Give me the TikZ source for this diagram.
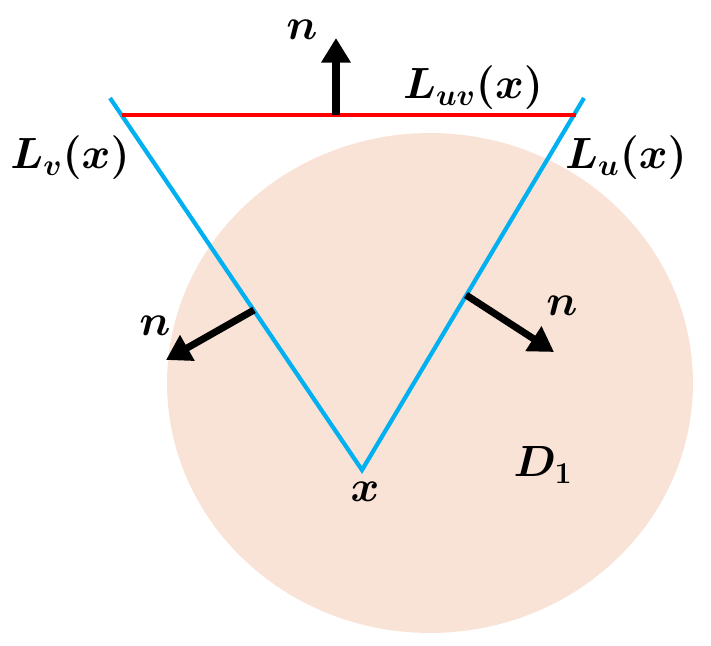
\documentclass[tikz,border=0pt]{standalone}
\usepackage{amsmath,bm}
\usetikzlibrary{arrows.meta}
\definecolor{peach}{RGB}{249,227,214}
\definecolor{skyline}{RGB}{0,176,240}
\tikzset{
	normal/.style={line width=4pt,-{Triangle[length=14pt,width=16pt]}},
	side/.style={skyline,line width=2.4pt},
	lab/.style={font=\fontsize{23}{26}\selectfont},
	nlab/.style={font=\fontsize{38}{40}\selectfont}
}
\begin{document}
\begin{tikzpicture}[x=0.02cm,y=-0.02cm]
		\useasboundingbox (0,0) rectangle (711,646);
		\fill [peach] (430,383) ellipse [x radius=5.26cm, y radius=5cm];
		% corners
		\coordinate (x) at (362,470);
		\coordinate (v) at (110,98);
		\coordinate (u) at (584,98);
		\coordinate (a) at (122,115);
		\coordinate (b) at (576,115);
		\draw [side] (v) -- (x) -- (u);
		\draw [red,line width=2.4pt] (a) -- (b);
		% normals
		\coordinate (ntop) at (336,115);
		\coordinate (nleft) at (254,310);
		\coordinate (nright) at (466,295);
		\draw [normal] (ntop) -- (336,38);
		\draw [normal] (nleft) -- (166,360);
		\draw [normal] (nright) -- (554,352);
		\node [nlab] (n1) at (302,30) {$\bm{n}$};
		\node [nlab] (n2) at (155,326) {$\bm{n}$};
		\node [nlab] (n3) at (562,306) {$\bm{n}$};
		% labels
		\node [lab] (luv) at (473,88) {$\bm{L_{uv}(x)}$};
		\node [lab] (lv) at (70,158) {$\bm{L_{v}(x)}$};
		\node [lab] (lu) at (626,158) {$\bm{L_{u}(x)}$};
		\node [lab] (lx) at (365,492) {$\bm{x}$};
		\node [lab] (d1) at (543,465) {$\bm{D_1}$};
		\end{tikzpicture}
\end{document}
